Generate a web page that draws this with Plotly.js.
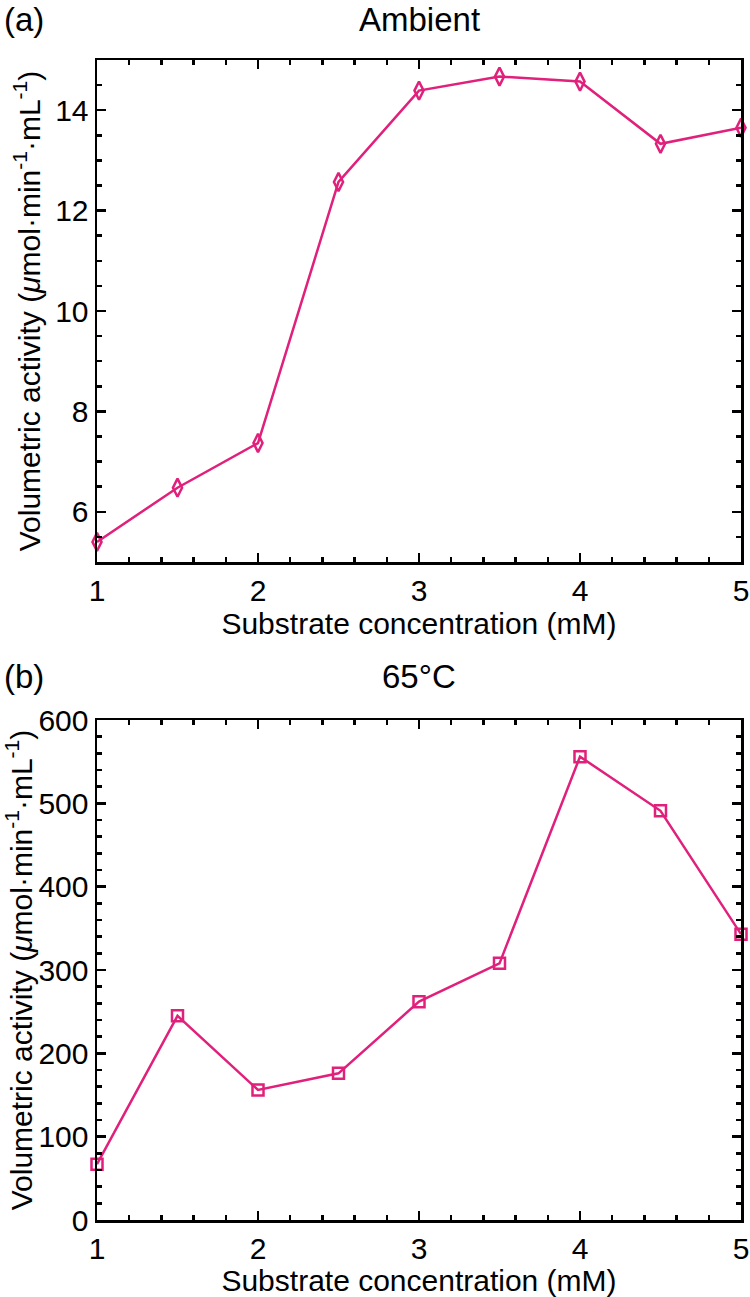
<!DOCTYPE html>
<html>
<head>
<meta charset="utf-8">
<script src="https://cdn.plot.ly/plotly-3.0.1.min.js"></script>
<style>html,body{margin:0;padding:0;background:#fff;}#chart{width:750px;height:1297px;}</style>
</head>
<body>
<div id="chart"></div>
<script>
// Substrate concentration (mM)
const concentration = [1, 1.5, 2, 2.5, 3, 3.5, 4, 4.5, 5];
// (a) Ambient volumetric activity
const ambientActivity = [5.4, 6.48, 7.37, 12.57, 14.39, 14.67, 14.57, 13.33, 13.65];
// (b) 65°C volumetric activity
const hotActivity = [67, 245, 156, 176, 262, 308, 556, 491, 343];

const panelTitles = ["Ambient", "65°C"];
const panelLetters = ["(a)", "(b)"];
const xTitle = "Substrate concentration (mM)";
const yTitle = "Volumetric activity (<i>μ</i>mol·min<sup>-1</sup>·mL<sup>-1</sup>)";

const pink = "rgb(224,32,122)";
const fontFam = "Liberation Sans, Arial, sans-serif";
const tickSize = 30;
const titleSize = 30;
const headSize = 33;

const traces = [
  {x: concentration, y: ambientActivity, xaxis: "x", yaxis: "y", mode: "lines+markers",
   line: {color: pink, width: 2.5},
   marker: {symbol: "diamond-tall-open", size: 13, color: pink, line: {color: pink, width: 2.5}},
   cliponaxis: false, showlegend: false},
  {x: concentration, y: hotActivity, xaxis: "x2", yaxis: "y2", mode: "lines+markers",
   line: {color: pink, width: 2.5},
   marker: {symbol: "square-open", size: 11, color: pink, line: {color: pink, width: 2.5}},
   cliponaxis: false, showlegend: false}
];

function xAxis(anchor) {
  return {
    anchor: anchor, domain: [0, 1], range: [1, 5], dtick: 1, tick0: 1,
    showgrid: false, zeroline: false, showline: true, linecolor: "#000", linewidth: 2.5,
    mirror: "allticks", ticks: "inside", ticklen: 9, tickwidth: 2.5, tickcolor: "#000",
    minor: {ticks: "inside", dtick: 0.2, tick0: 1, ticklen: 5, tickwidth: 2.5, tickcolor: "#000", showgrid: false},
    tickfont: {family: fontFam, size: tickSize, color: "#000"},
    title: {text: xTitle, font: {family: fontFam, size: titleSize, color: "#000"}, standoff: 0}
  };
}
function yAxis(anchor, domain, range, dtick, minorDtick) {
  return {
    anchor: anchor, domain: domain, range: range, dtick: dtick,
    showgrid: false, zeroline: false, showline: true, linecolor: "#000", linewidth: 2.5,
    mirror: "allticks", ticks: "inside", ticklen: 9, tickwidth: 2.5, tickcolor: "#000",
    minor: {ticks: "inside", dtick: minorDtick, ticklen: 5, tickwidth: 2.5, tickcolor: "#000", showgrid: false},
    tickfont: {family: fontFam, size: tickSize, color: "#000"},
    title: {text: yTitle, font: {family: fontFam, size: titleSize, color: "#000"}, standoff: 6}
  };
}

const H = 1160; // plot height in px (1297 - 60 - 77)
function py(pix) { return (1220 - pix) / H; }
function px(pix) { return (pix - 97) / 644; }

const layout = {
  width: 750, height: 1297,
  margin: {l: 97, r: 9, t: 60, b: 77},
  paper_bgcolor: "#fff", plot_bgcolor: "#fff",
  font: {family: fontFam, color: "#000"},
  xaxis: xAxis("y"),
  yaxis: yAxis("x", [py(562), 1], [5, 15], 2, 0.5),
  xaxis2: xAxis("y2"),
  yaxis2: yAxis("x2", [0, py(720)], [0, 600], 100, 20),
  annotations: [
    {text: panelLetters[0], xref: "paper", yref: "paper", x: px(2), y: py(20), xanchor: "left", yanchor: "middle", showarrow: false, font: {family: fontFam, size: headSize, color: "#000"}},
    {text: panelTitles[0], xref: "paper", yref: "paper", x: 0.5, y: py(20), xanchor: "center", yanchor: "middle", showarrow: false, font: {family: fontFam, size: headSize, color: "#000"}},
    {text: panelLetters[1], xref: "paper", yref: "paper", x: px(2), y: py(676), xanchor: "left", yanchor: "middle", showarrow: false, font: {family: fontFam, size: headSize, color: "#000"}},
    {text: panelTitles[1], xref: "paper", yref: "paper", x: 0.5, y: py(676), xanchor: "center", yanchor: "middle", showarrow: false, font: {family: fontFam, size: headSize, color: "#000"}}
  ]
};

Plotly.newPlot("chart", traces, layout, {staticPlot: true, displayModeBar: false});
</script>
</body>
</html>
